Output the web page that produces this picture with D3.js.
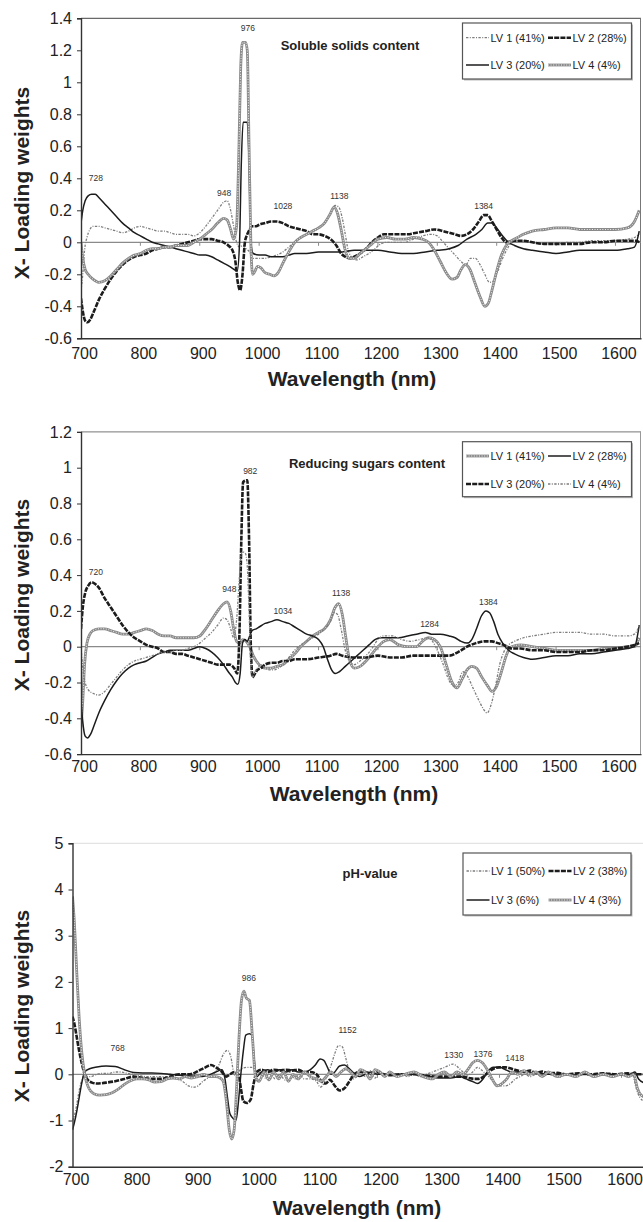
<!DOCTYPE html>
<html><head><meta charset="utf-8">
<script src="https://cdn.jsdelivr.net/npm/d3@7"></script>
<style>
body{margin:0;background:#fff}
svg{display:block}
text{font-family:"Liberation Sans",Arial,sans-serif}
</style>
</head><body>
<svg id="c" width="643" height="1222"></svg>
<script>
// ---------------- DATA ----------------
const xTicks = [700,800,900,1000,1100,1200,1300,1400,1500,1600];
const yTicks1 = [-0.6,-0.4,-0.2,0,0.2,0.4,0.6,0.8,1,1.2,1.4];
const yTicks2 = [-0.6,-0.4,-0.2,0,0.2,0.4,0.6,0.8,1,1.2];
const yTicks3 = [-2,-1,0,1,2,3,4,5];

const titles = ["Soluble solids content","Reducing sugars content","pH-value"];
const legend1 = ["LV 1 (41%)","LV 2 (28%)","LV 3 (20%)","LV 4 (4%)"];
const legend2 = ["LV 1 (41%)","LV 2 (28%)","LV 3 (20%)","LV 4 (4%)"];
const legend3 = ["LV 1 (50%)","LV 2 (38%)","LV 3 (6%)","LV 4 (3%)"];

// peak annotations: [label, wavelength, loading]
const peaks1 = [["728",725,0.40],["948",941,0.31],["976",981,1.34],["1028",1040,0.23],["1138",1135,0.29],["1384",1378,0.23]];
const peaks2 = [["720",725,0.42],["948",950,0.32],["982",985,0.98],["1034",1040,0.20],["1138",1138,0.30],["1284",1287,0.125],["1384",1386,0.25]];
const peaks3 = [["768",774,0.57],["986",989,2.08],["1152",1151,0.95],["1330",1325,0.42],["1376",1373,0.43],["1418",1425,0.35]];

// Panel 1: Soluble solids content  [wavelength (nm), loading weight]
const sscLV1 = [[700,-0.3],[703,-0.2],[706,-0.05],[710,0.03],[715,0.08],[720,0.1],[730,0.1],[740,0.09],[750,0.08],[760,0.07],[770,0.06],[780,0.07],[790,0.09],[800,0.1],[810,0.09],[820,0.08],[830,0.07],[840,0.07],[850,0.06],[860,0.05],[870,0.05],[880,0.05],[890,0.04],[900,0.06],[910,0.1],[920,0.15],[930,0.2],[940,0.25],[946,0.26],[952,0.2],[957,0.1],[962,0.0],[967,-0.03],[972,-0.02],[978,-0.04],[984,-0.06],[990,-0.1],[1000,-0.1],[1010,-0.1],[1020,-0.09],[1030,-0.08],[1040,-0.06],[1050,-0.03],[1060,0.0],[1070,0.03],[1080,0.05],[1090,0.06],[1100,0.09],[1110,0.12],[1120,0.18],[1128,0.23],[1134,0.22],[1140,0.15],[1145,0.05],[1150,-0.05],[1158,-0.1],[1165,-0.11],[1175,-0.09],[1185,-0.07],[1195,-0.04],[1205,-0.01],[1215,0.0],[1230,0.0],[1245,0.0],[1260,0.02],[1275,0.04],[1290,0.05],[1300,0.04],[1310,0.0],[1320,-0.04],[1330,-0.08],[1340,-0.12],[1348,-0.14],[1356,-0.1],[1364,-0.1],[1372,-0.14],[1380,-0.2],[1388,-0.25],[1395,-0.24],[1402,-0.18],[1410,-0.1],[1418,-0.04],[1425,0.0],[1440,0.01],[1460,0.0],[1480,-0.01],[1500,-0.01],[1520,0.0],[1540,0.0],[1560,0.01],[1580,0.01],[1600,0.01],[1620,0.02],[1632,0.03],[1640,0.05]];
const sscLV2 = [[700,-0.35],[703,-0.43],[707,-0.49],[711,-0.5],[716,-0.48],[722,-0.43],[730,-0.36],[740,-0.29],[750,-0.23],[760,-0.18],[770,-0.14],[780,-0.11],[790,-0.09],[800,-0.08],[810,-0.07],[820,-0.05],[830,-0.04],[840,-0.03],[850,-0.03],[860,-0.02],[870,-0.01],[880,0.0],[890,0.01],[900,0.02],[910,0.02],[920,0.02],[930,0.01],[940,0.0],[948,-0.02],[955,-0.05],[960,-0.12],[964,-0.25],[968,-0.3],[972,-0.2],[976,0.0],[980,0.05],[984,0.08],[988,0.1],[995,0.1],[1000,0.11],[1010,0.12],[1020,0.13],[1030,0.13],[1040,0.12],[1050,0.1],[1060,0.09],[1070,0.08],[1080,0.07],[1090,0.05],[1100,0.05],[1110,0.04],[1120,0.02],[1130,-0.02],[1138,-0.07],[1145,-0.09],[1152,-0.1],[1160,-0.09],[1170,-0.07],[1180,-0.04],[1190,0.0],[1200,0.03],[1210,0.05],[1220,0.05],[1235,0.05],[1250,0.05],[1265,0.06],[1280,0.07],[1295,0.08],[1310,0.07],[1320,0.06],[1330,0.05],[1340,0.04],[1350,0.05],[1360,0.08],[1370,0.13],[1378,0.17],[1385,0.17],[1392,0.13],[1400,0.08],[1408,0.03],[1416,0.0],[1430,0.01],[1445,0.01],[1460,0.0],[1480,-0.01],[1500,-0.01],[1520,-0.01],[1540,-0.01],[1560,0.0],[1580,0.0],[1600,0.01],[1620,0.01],[1635,0.01],[1640,0.0]];
const sscLV3 = [[700,0.12],[703,0.2],[707,0.26],[712,0.29],[718,0.3],[724,0.3],[730,0.28],[740,0.24],[750,0.2],[760,0.16],[770,0.12],[780,0.09],[790,0.06],[800,0.04],[810,0.02],[820,0.0],[830,-0.01],[840,-0.02],[850,-0.03],[860,-0.04],[870,-0.05],[880,-0.06],[890,-0.07],[900,-0.08],[910,-0.08],[920,-0.09],[930,-0.11],[940,-0.13],[950,-0.15],[958,-0.17],[963,-0.18],[967,0.0],[970,0.5],[973,0.75],[980,0.75],[983,0.5],[986,0.0],[990,-0.07],[1000,-0.08],[1010,-0.08],[1020,-0.09],[1030,-0.09],[1040,-0.09],[1050,-0.08],[1060,-0.07],[1080,-0.07],[1100,-0.06],[1120,-0.06],[1140,-0.06],[1160,-0.05],[1180,-0.05],[1200,-0.05],[1220,-0.06],[1240,-0.07],[1260,-0.07],[1280,-0.06],[1300,-0.05],[1320,-0.04],[1335,-0.02],[1350,0.02],[1365,0.05],[1375,0.08],[1385,0.12],[1392,0.12],[1400,0.09],[1410,0.04],[1420,0.0],[1430,-0.02],[1445,-0.04],[1460,-0.05],[1480,-0.06],[1500,-0.07],[1520,-0.06],[1540,-0.05],[1560,-0.05],[1580,-0.05],[1600,-0.05],[1620,-0.04],[1632,-0.03],[1640,0.07]];
const sscLV4 = [[700,0.0],[703,-0.1],[707,-0.17],[712,-0.2],[720,-0.23],[730,-0.25],[740,-0.24],[750,-0.21],[760,-0.17],[770,-0.13],[780,-0.1],[790,-0.08],[800,-0.07],[810,-0.05],[820,-0.04],[830,-0.04],[840,-0.03],[850,-0.03],[860,-0.02],[870,-0.02],[880,-0.02],[890,0.0],[900,0.02],[910,0.05],[920,0.08],[930,0.12],[940,0.15],[946,0.14],[952,0.08],[957,0.02],[962,0.1],[966,0.6],[969,1.1],[972,1.25],[977,1.25],[980,1.2],[983,0.6],[986,0.0],[989,-0.2],[993,-0.18],[997,-0.15],[1003,-0.16],[1010,-0.19],[1018,-0.2],[1025,-0.21],[1032,-0.19],[1040,-0.13],[1050,-0.06],[1060,0.0],[1070,0.03],[1080,0.05],[1090,0.07],[1100,0.09],[1110,0.12],[1120,0.18],[1126,0.22],[1132,0.18],[1138,0.08],[1145,-0.05],[1152,-0.1],[1160,-0.1],[1170,-0.07],[1180,-0.04],[1190,-0.01],[1200,0.02],[1215,0.03],[1230,0.02],[1245,0.02],[1260,0.03],[1275,0.02],[1285,0.0],[1295,-0.05],[1305,-0.12],[1315,-0.19],[1325,-0.23],[1333,-0.22],[1340,-0.17],[1347,-0.14],[1355,-0.17],[1363,-0.25],[1372,-0.34],[1380,-0.4],[1386,-0.38],[1392,-0.3],[1400,-0.18],[1408,-0.08],[1416,-0.02],[1425,0.01],[1435,0.03],[1445,0.05],[1460,0.07],[1480,0.08],[1500,0.09],[1520,0.09],[1540,0.08],[1560,0.08],[1580,0.08],[1600,0.08],[1620,0.09],[1632,0.13],[1640,0.2]];

// Panel 2: Reducing sugars content
const rsLV1 = [[700,-0.45],[703,-0.3],[706,-0.1],[710,0.02],[715,0.07],[720,0.09],[730,0.1],[740,0.1],[750,0.09],[760,0.08],[770,0.07],[780,0.07],[790,0.08],[800,0.09],[810,0.1],[820,0.09],[830,0.07],[840,0.06],[850,0.06],[860,0.05],[870,0.05],[880,0.05],[890,0.05],[900,0.06],[910,0.1],[920,0.15],[930,0.2],[940,0.24],[946,0.25],[952,0.2],[957,0.1],[962,0.03],[967,0.02],[972,0.04],[978,0.03],[984,0.0],[990,-0.05],[1000,-0.1],[1010,-0.12],[1020,-0.12],[1030,-0.11],[1040,-0.1],[1050,-0.07],[1060,-0.04],[1070,0.0],[1080,0.03],[1090,0.06],[1100,0.08],[1110,0.1],[1120,0.15],[1128,0.22],[1134,0.24],[1140,0.18],[1146,0.05],[1152,-0.07],[1160,-0.12],[1170,-0.11],[1180,-0.08],[1190,-0.04],[1200,0.0],[1210,0.03],[1220,0.04],[1235,0.01],[1250,0.0],[1265,0.0],[1275,0.03],[1285,0.05],[1295,0.04],[1305,0.0],[1315,-0.1],[1325,-0.2],[1333,-0.23],[1342,-0.18],[1350,-0.13],[1358,-0.11],[1366,-0.12],[1375,-0.17],[1385,-0.22],[1392,-0.25],[1400,-0.22],[1408,-0.14],[1416,-0.05],[1425,0.0],[1440,0.01],[1460,0.0],[1480,-0.01],[1500,-0.02],[1520,-0.02],[1540,-0.02],[1560,-0.02],[1580,-0.01],[1600,-0.01],[1620,0.0],[1632,0.0],[1640,0.05]];
const rsLV2 = [[700,-0.3],[703,-0.42],[707,-0.5],[711,-0.51],[716,-0.49],[722,-0.44],[730,-0.37],[740,-0.3],[750,-0.24],[760,-0.19],[770,-0.15],[780,-0.12],[790,-0.1],[800,-0.09],[810,-0.08],[820,-0.06],[830,-0.04],[840,-0.03],[850,-0.02],[860,-0.02],[870,-0.02],[880,-0.02],[890,-0.01],[900,0.0],[910,-0.01],[920,-0.03],[930,-0.06],[940,-0.1],[948,-0.14],[955,-0.17],[960,-0.2],[964,-0.21],[968,-0.15],[972,0.02],[976,0.04],[980,0.03],[984,0.06],[988,0.09],[995,0.1],[1000,0.11],[1010,0.13],[1020,0.14],[1030,0.15],[1040,0.14],[1050,0.13],[1060,0.11],[1070,0.09],[1080,0.07],[1090,0.06],[1100,0.04],[1108,0.0],[1115,-0.07],[1122,-0.13],[1128,-0.15],[1135,-0.14],[1145,-0.11],[1155,-0.08],[1165,-0.05],[1175,-0.02],[1185,0.01],[1195,0.04],[1205,0.05],[1220,0.05],[1235,0.05],[1250,0.06],[1265,0.07],[1280,0.08],[1290,0.07],[1305,0.07],[1320,0.06],[1330,0.05],[1340,0.03],[1350,0.02],[1358,0.04],[1366,0.1],[1374,0.17],[1382,0.2],[1388,0.19],[1395,0.14],[1402,0.07],[1410,0.02],[1420,-0.02],[1430,-0.04],[1445,-0.06],[1460,-0.07],[1480,-0.06],[1500,-0.05],[1520,-0.05],[1540,-0.04],[1560,-0.04],[1580,-0.03],[1600,-0.02],[1620,-0.01],[1632,0.0],[1640,0.12]];
const rsLV3 = [[700,0.1],[703,0.22],[707,0.3],[712,0.34],[718,0.36],[724,0.35],[730,0.33],[740,0.27],[750,0.22],[760,0.17],[770,0.12],[780,0.08],[790,0.05],[800,0.03],[810,0.01],[820,0.0],[830,-0.01],[840,-0.03],[850,-0.03],[860,-0.04],[870,-0.04],[880,-0.05],[890,-0.06],[900,-0.07],[910,-0.08],[920,-0.09],[930,-0.1],[940,-0.1],[950,-0.1],[958,-0.12],[963,-0.15],[967,0.1],[970,0.6],[973,0.92],[980,0.93],[983,0.6],[986,0.0],[989,-0.17],[993,-0.15],[997,-0.13],[1003,-0.12],[1010,-0.1],[1020,-0.09],[1030,-0.09],[1040,-0.08],[1050,-0.08],[1060,-0.07],[1080,-0.07],[1100,-0.06],[1120,-0.05],[1130,-0.04],[1140,-0.05],[1160,-0.06],[1180,-0.06],[1200,-0.05],[1220,-0.06],[1240,-0.06],[1260,-0.05],[1280,-0.05],[1300,-0.05],[1320,-0.05],[1335,-0.03],[1350,0.0],[1365,0.02],[1380,0.03],[1392,0.03],[1402,0.02],[1412,0.01],[1425,-0.01],[1440,-0.01],[1460,-0.02],[1480,-0.02],[1500,-0.03],[1520,-0.03],[1540,-0.03],[1560,-0.02],[1580,-0.02],[1600,-0.01],[1620,0.0],[1632,0.01],[1640,0.02]];
const rsLV4 = [[700,0.0],[703,-0.12],[707,-0.2],[712,-0.24],[720,-0.26],[730,-0.27],[740,-0.25],[750,-0.21],[760,-0.17],[770,-0.13],[780,-0.1],[790,-0.08],[800,-0.07],[810,-0.06],[820,-0.05],[830,-0.04],[840,-0.03],[850,-0.03],[860,-0.02],[870,-0.02],[880,-0.01],[890,0.0],[900,0.02],[910,0.05],[920,0.08],[930,0.12],[940,0.16],[946,0.15],[952,0.1],[957,0.05],[962,0.15],[966,0.35],[969,0.5],[972,0.53],[977,0.52],[980,0.45],[983,0.2],[986,-0.1],[989,-0.17],[993,-0.14],[997,-0.12],[1003,-0.1],[1010,-0.12],[1018,-0.13],[1025,-0.13],[1032,-0.12],[1040,-0.1],[1050,-0.06],[1060,-0.02],[1070,0.01],[1080,0.03],[1090,0.05],[1100,0.07],[1110,0.1],[1120,0.14],[1126,0.19],[1132,0.18],[1138,0.1],[1145,-0.02],[1152,-0.08],[1160,-0.1],[1170,-0.08],[1180,-0.05],[1190,-0.01],[1200,0.04],[1210,0.06],[1225,0.06],[1240,0.04],[1255,0.03],[1270,0.04],[1283,0.05],[1292,0.03],[1300,-0.02],[1310,-0.1],[1320,-0.19],[1328,-0.22],[1335,-0.2],[1343,-0.14],[1350,-0.16],[1360,-0.23],[1370,-0.3],[1378,-0.35],[1384,-0.37],[1390,-0.33],[1398,-0.22],[1405,-0.1],[1412,-0.03],[1420,0.01],[1430,0.03],[1445,0.05],[1460,0.06],[1480,0.07],[1500,0.08],[1520,0.08],[1540,0.08],[1560,0.07],[1580,0.07],[1600,0.06],[1620,0.06],[1632,0.07],[1640,0.12]];

// Panel 3: pH-value
const phLV1 = [[700,-1.0],[703,-0.9],[707,-0.65],[711,-0.35],[716,-0.1],[720,0.0],[725,-0.05],[730,-0.05],[740,0.0],[750,0.02],[760,0.02],[770,0.05],[780,0.05],[790,0.02],[800,0.0],[810,-0.03],[820,-0.05],[830,-0.05],[840,-0.05],[850,-0.05],[860,-0.08],[870,-0.1],[880,-0.15],[890,-0.25],[898,-0.28],[906,-0.25],[914,-0.15],[922,-0.08],[930,-0.02],[940,0.2],[948,0.45],[954,0.52],[960,0.35],[964,0.05],[968,-0.05],[975,0.1],[985,0.15],[995,0.15],[1002,0.0],[1008,0.05],[1016,-0.08],[1024,0.05],[1032,-0.1],[1040,0.0],[1048,-0.12],[1056,0.05],[1064,-0.1],[1072,0.0],[1080,-0.1],[1090,-0.1],[1100,-0.15],[1106,-0.28],[1112,-0.2],[1118,0.0],[1124,0.2],[1130,0.45],[1136,0.62],[1142,0.6],[1148,0.35],[1154,0.05],[1160,-0.1],[1166,-0.05],[1172,0.05],[1180,-0.05],[1188,0.08],[1196,-0.08],[1204,0.05],[1212,-0.05],[1220,0.0],[1230,-0.05],[1240,0.0],[1250,-0.05],[1260,0.0],[1270,-0.05],[1280,0.0],[1290,0.05],[1300,0.1],[1310,0.15],[1318,0.2],[1324,0.22],[1332,0.15],[1340,0.05],[1348,-0.02],[1356,0.05],[1364,0.15],[1370,0.1],[1378,0.0],[1386,-0.1],[1394,-0.2],[1402,-0.25],[1410,-0.25],[1418,-0.2],[1426,-0.1],[1434,-0.05],[1442,0.0],[1450,-0.05],[1460,0.0],[1470,-0.05],[1480,0.0],[1495,-0.05],[1510,0.0],[1525,-0.05],[1540,0.0],[1555,-0.05],[1570,0.0],[1585,-0.05],[1600,0.0],[1610,-0.05],[1618,0.0],[1624,-0.3],[1630,-0.5],[1640,-0.6]];
const phLV2 = [[700,1.25],[703,1.1],[707,0.8],[711,0.5],[715,0.25],[720,0.0],[725,-0.12],[732,-0.18],[740,-0.2],[755,-0.18],[770,-0.15],[785,-0.1],[800,-0.05],[815,-0.08],[830,-0.1],[845,-0.1],[860,-0.05],[875,0.0],[890,0.0],[900,0.03],[910,0.1],[918,0.15],[927,0.2],[935,0.15],[945,0.05],[952,-0.05],[958,0.0],[965,0.05],[972,0.0],[976,-0.3],[980,-0.58],[986,-0.62],[992,-0.55],[997,-0.2],[1002,0.05],[1010,0.1],[1020,0.05],[1030,0.1],[1040,0.08],[1050,0.1],[1060,0.08],[1070,0.1],[1080,0.05],[1090,0.05],[1100,0.0],[1108,-0.15],[1115,-0.2],[1122,-0.12],[1130,-0.25],[1138,-0.35],[1146,-0.3],[1154,-0.15],[1162,0.0],[1170,0.05],[1180,0.05],[1190,0.0],[1200,0.05],[1210,0.0],[1220,-0.02],[1240,0.0],[1260,0.0],[1280,-0.03],[1300,-0.05],[1320,-0.05],[1340,-0.05],[1350,-0.08],[1358,-0.1],[1366,-0.1],[1374,-0.05],[1382,0.05],[1390,0.12],[1400,0.15],[1410,0.15],[1420,0.12],[1430,0.08],[1440,0.05],[1450,0.08],[1460,0.03],[1470,0.06],[1480,0.02],[1495,0.03],[1510,0.0],[1530,0.02],[1550,0.0],[1570,0.02],[1590,0.0],[1610,0.02],[1620,0.0],[1630,0.0],[1640,0.0]];
const phLV3 = [[700,-1.2],[703,-1.05],[707,-0.8],[711,-0.5],[715,-0.2],[720,0.05],[728,0.12],[740,0.16],[755,0.18],[770,0.17],[785,0.1],[800,0.04],[815,0.03],[830,0.03],[845,0.02],[860,0.0],[875,-0.02],[890,-0.03],[905,-0.05],[920,-0.03],[935,0.05],[945,0.1],[950,-0.1],[954,-0.5],[958,-0.85],[963,-0.95],[968,-1.0],[972,-0.6],[976,0.0],[980,0.5],[984,0.85],[990,0.88],[994,0.85],[998,0.3],[1002,-0.05],[1010,0.05],[1020,0.1],[1030,0.05],[1040,0.1],[1050,0.05],[1060,0.1],[1070,0.05],[1080,0.05],[1090,0.1],[1098,0.2],[1106,0.33],[1112,0.3],[1118,0.15],[1124,0.0],[1130,0.05],[1138,0.18],[1146,0.2],[1154,0.12],[1162,0.02],[1170,-0.05],[1180,0.0],[1190,0.05],[1200,0.0],[1220,0.0],[1240,0.0],[1260,0.0],[1280,-0.03],[1300,-0.08],[1320,-0.08],[1335,-0.05],[1345,-0.1],[1355,-0.15],[1364,-0.2],[1372,-0.12],[1380,0.05],[1390,0.15],[1400,0.15],[1410,0.1],[1420,0.05],[1440,0.05],[1460,0.03],[1480,0.0],[1500,0.0],[1520,-0.02],[1540,0.0],[1560,-0.02],[1580,0.0],[1600,-0.02],[1615,0.0],[1622,0.05],[1628,-0.1],[1640,-0.2]];
const phLV4 = [[700,3.85],[703,3.3],[707,2.2],[711,1.2],[715,0.5],[720,0.0],[725,-0.25],[735,-0.42],[745,-0.45],[755,-0.44],[765,-0.4],[775,-0.32],[785,-0.22],[795,-0.14],[805,-0.1],[815,-0.1],[825,-0.12],[835,-0.17],[845,-0.16],[855,-0.1],[865,-0.08],[875,-0.1],[885,-0.05],[895,-0.08],[905,-0.05],[915,0.0],[925,-0.05],[935,-0.05],[942,-0.08],[947,-0.15],[952,-0.55],[957,-1.2],[961,-1.4],[965,-1.2],[969,-0.3],[973,0.8],[977,1.6],[981,1.8],[985,1.65],[990,1.6],[995,0.8],[1000,-0.05],[1006,-0.15],[1014,0.05],[1022,-0.12],[1030,0.05],[1038,-0.1],[1046,0.05],[1054,-0.15],[1062,0.0],[1070,-0.1],[1080,0.05],[1090,-0.05],[1100,-0.1],[1108,-0.15],[1116,-0.05],[1124,0.05],[1132,-0.05],[1140,0.05],[1148,0.12],[1156,0.05],[1164,-0.05],[1172,0.1],[1180,0.05],[1188,-0.1],[1196,0.1],[1204,0.05],[1212,-0.05],[1220,0.05],[1232,-0.05],[1245,0.0],[1260,0.05],[1275,-0.05],[1290,-0.1],[1300,0.0],[1310,0.05],[1320,-0.05],[1330,0.05],[1340,0.0],[1348,0.1],[1356,0.25],[1364,0.3],[1372,0.25],[1380,0.1],[1388,-0.1],[1396,-0.25],[1404,-0.2],[1412,-0.1],[1420,0.05],[1430,0.0],[1440,0.08],[1450,0.0],[1460,0.05],[1470,-0.05],[1480,0.05],[1495,-0.05],[1510,0.0],[1525,-0.05],[1540,0.05],[1555,-0.05],[1570,0.0],[1585,-0.05],[1600,0.0],[1612,-0.05],[1620,0.0],[1626,-0.3],[1632,-0.45],[1640,-0.5]];

// ---------------- STYLES ----------------
const STY = {
  dashdot:  {stroke:"#7d7d7d", width:1.3, dash:"2.4,1.4,1,1.4"},
  hatched:  {stroke:"#8a8a8a", width:2.8, dash:null, inner:{stroke:"#fff", width:0.9, dash:"1,1.6"}},
  thickdash:{stroke:"#1c1c1c", width:2.6, dash:"5,1.2"},
  solid:    {stroke:"#1c1c1c", width:1.5, dash:null}
};

const panels = [
  {title:titles[0], series:[sscLV1,sscLV2,sscLV3,sscLV4], names:legend1,
   styles:["dashdot","thickdash","solid","hatched"], peaks:peaks1,
   yDom:[-0.6,1.4], yTicks:yTicks1, fmt:d=>d===0?"0":String(d),
   L:81, R:641, xDom:[700,1643], T:18.3, B:338.3,
   tickLabY:354, xTitleY:378, xTitleCX:352, yTitleCY:183, titleX:350, titleY:45,
   leg:{x:462.5,y:23,w:169,h:56,r1:37.7,r2:65}, topCol:"#444", rightCol:"#777"},
  {title:titles[1], series:[rsLV1,rsLV2,rsLV3,rsLV4], names:legend2,
   styles:["hatched","solid","thickdash","dashdot"], peaks:peaks2,
   yDom:[-0.6,1.2], yTicks:yTicks2, fmt:d=>String(d),
   L:81, R:641, xDom:[700,1643], T:431.9, B:754.1,
   tickLabY:767, xTitleY:793, xTitleCX:354, yTitleCY:595, titleX:367, titleY:463,
   leg:{x:462.5,y:441.7,w:169,h:55,r1:456,r2:484}, topCol:"#777", rightCol:"#999"},
  {title:titles[2], series:[phLV1,phLV2,phLV3,phLV4], names:legend3,
   styles:["dashdot","thickdash","solid","hatched"], peaks:peaks3,
   yDom:[-2,5], yTicks:yTicks3, fmt:d=>String(d),
   L:72.5, R:645.9, xDom:[700,1640], T:843.3, B:1166.7,
   tickLabY:1180, xTitleY:1207, xTitleCX:357, yTitleCY:1006, titleX:370, titleY:873,
   leg:{x:463,y:853,w:168,h:62,r1:871,r2:900}, topCol:"#ddd", rightCol:null}
];

const svg = d3.select("#c");

function strokeLine(sel, st){
  sel.attr("fill","none").attr("stroke",st.stroke).attr("stroke-width",st.width)
     .attr("stroke-dasharray",st.dash).attr("stroke-linejoin","round");
}

panels.forEach((p,pi)=>{
  const x = d3.scaleLinear().domain(p.xDom).range([p.L,p.R]);
  const y = d3.scaleLinear().domain(p.yDom).range([p.B,p.T]);
  const g = svg.append("g");

  const clipId = "clip"+pi;
  svg.append("clipPath").attr("id",clipId).append("rect")
    .attr("x",p.L).attr("y",p.T).attr("width",Math.min(p.R,643)-p.L).attr("height",p.B-p.T);

  // frame top / right
  g.append("line").attr("x1",p.L).attr("x2",Math.min(p.R,643)).attr("y1",p.T).attr("y2",p.T)
    .attr("stroke",p.topCol).attr("stroke-width",1);
  if(p.rightCol) g.append("line").attr("x1",p.R-0.5).attr("x2",p.R-0.5).attr("y1",p.T).attr("y2",p.B)
    .attr("stroke",p.rightCol).attr("stroke-width",1);

  // zero line with category ticks
  g.append("line").attr("x1",p.L).attr("x2",Math.min(p.R,643)).attr("y1",y(0)).attr("y2",y(0))
    .attr("stroke","#8a8a8a").attr("stroke-width",1.2);
  g.selectAll(".zt").data(xTicks.slice(1)).enter().append("line")
    .attr("x1",d=>x(d)).attr("x2",d=>x(d)).attr("y1",y(0)).attr("y2",y(0)+3.5)
    .attr("stroke","#8a8a8a").attr("stroke-width",1);

  // series
  const line = d3.line().x(d=>x(d[0])).y(d=>y(d[1])).curve(d3.curveMonotoneX);
  const sg = g.append("g").attr("clip-path",`url(#${clipId})`);
  p.series.forEach((s,i)=>{
    const st = STY[p.styles[i]];
    strokeLine(sg.append("path").datum(s).attr("d",line), st);
    if(st.inner) strokeLine(sg.append("path").datum(s).attr("d",line), st.inner);
  });

  // axes (left and bottom)
  const yAxis = d3.axisLeft(y).tickValues(p.yTicks).tickFormat(p.fmt).tickSize(4).tickPadding(5);
  const ya = g.append("g").attr("transform",`translate(${p.L},0)`).call(yAxis);
  ya.select(".domain").attr("stroke","#333").attr("stroke-width",1.4);
  ya.selectAll(".tick line").attr("stroke","#333");
  ya.selectAll(".tick text").attr("font-size",16).attr("fill","#222")
    .attr("font-family","'Liberation Sans',Arial,sans-serif");

  const xAxis = d3.axisBottom(x).tickValues(xTicks).tickSize(0).tickPadding(0).tickFormat(d=>String(d));
  const xa = g.append("g").attr("transform",`translate(0,${p.B})`).call(xAxis);
  xa.select(".domain").attr("stroke","#333").attr("stroke-width",1.4);
  xa.selectAll(".tick text").attr("font-size",16).attr("fill","#222")
    .attr("font-family","'Liberation Sans',Arial,sans-serif")
    .attr("dy",null).attr("y",p.tickLabY-p.B).attr("dominant-baseline","central").attr("x",3);

  // axis titles
  g.append("text").attr("x",p.xTitleCX).attr("y",p.xTitleY)
    .attr("text-anchor","middle").attr("dominant-baseline","central")
    .attr("font-size",21).attr("font-weight","bold").attr("fill","#222").text("Wavelength (nm)");
  g.append("text").attr("transform",`translate(21,${p.yTitleCY}) rotate(-90)`)
    .attr("text-anchor","middle").attr("dominant-baseline","central")
    .attr("font-size",21).attr("font-weight","bold").attr("fill","#222").text("X- Loading weights");

  // chart title
  g.append("text").attr("x",p.titleX).attr("y",p.titleY).attr("text-anchor","middle")
    .attr("dominant-baseline","central").attr("font-size",13).attr("font-weight","bold")
    .attr("fill","#222").text(p.title);

  // peak labels
  g.selectAll(".pk").data(p.peaks).enter().append("text")
    .attr("x",d=>x(d[1])).attr("y",d=>y(d[2])).attr("text-anchor","middle")
    .attr("dominant-baseline","central").attr("font-size",8.5).attr("fill","#333").text(d=>d[0]);

  // legend
  const lg = p.leg;
  g.append("rect").attr("x",lg.x+1.5).attr("y",lg.y+1.5).attr("width",lg.w).attr("height",lg.h)
    .attr("fill","#bbb");
  g.append("rect").attr("x",lg.x).attr("y",lg.y).attr("width",lg.w).attr("height",lg.h)
    .attr("fill","#fff").attr("stroke","#555").attr("stroke-width",1.2);
  const cols = [[lg.x+3.5,lg.x+26.5],[lg.x+85.5,lg.x+108.5]];
  p.names.forEach((nm,i)=>{
    const c = cols[i%2], ry = i<2?lg.r1:lg.r2;
    const st = STY[p.styles[i]];
    strokeLine(g.append("line").attr("x1",c[0]).attr("x2",c[1]).attr("y1",ry).attr("y2",ry), st);
    if(st.inner) strokeLine(g.append("line").attr("x1",c[0]).attr("x2",c[1]).attr("y1",ry).attr("y2",ry), st.inner);
    g.append("text").attr("x",c[1]+1.5).attr("y",ry).attr("dominant-baseline","central")
      .attr("font-size",11).attr("fill","#222").text(nm);
  });
});
</script>
</body></html>
